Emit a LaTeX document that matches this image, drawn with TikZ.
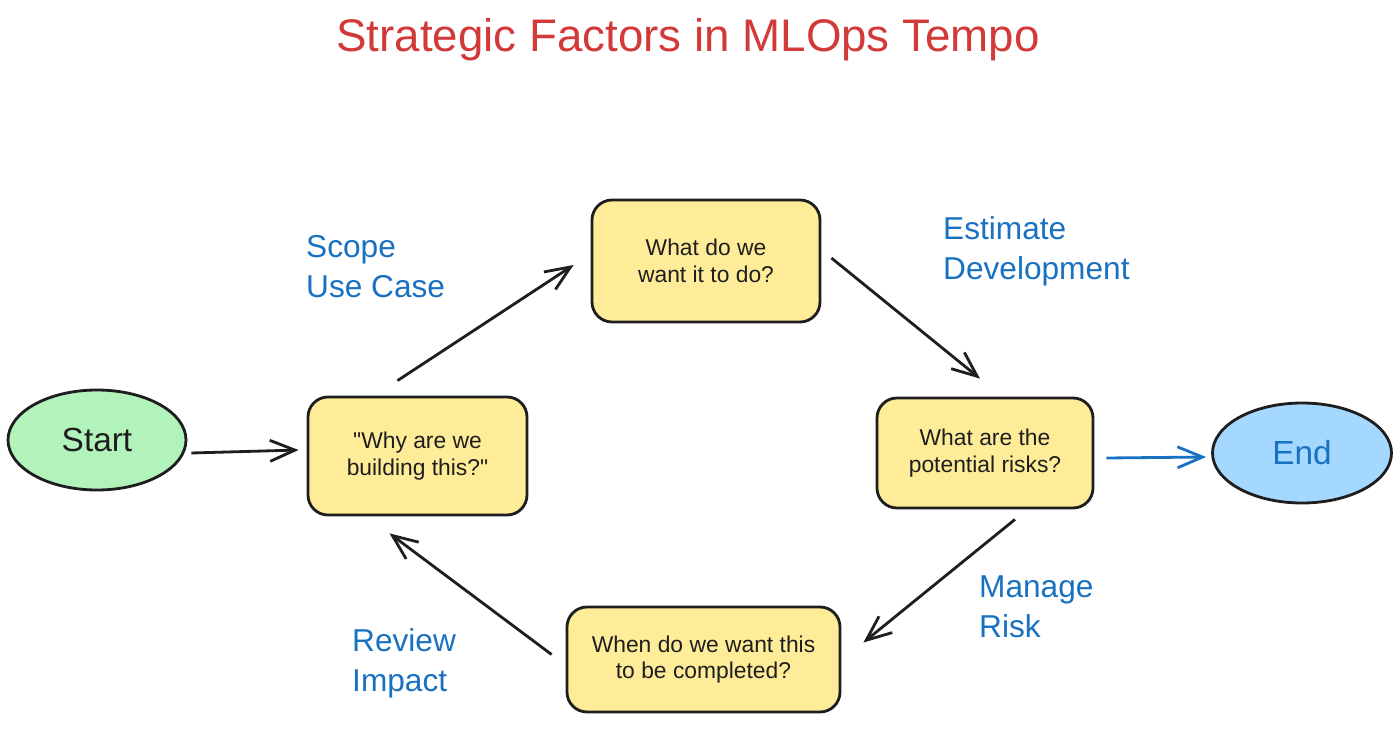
\documentclass[tikz,border=0pt]{standalone}
\usepackage{fontspec}
\setmainfont{Liberation Sans}
\usetikzlibrary{shapes.geometric,arrows.meta,positioning}
\definecolor{inkdark}{HTML}{1E1E1E}
\definecolor{startgreen}{HTML}{B2F2BB}
\definecolor{endblue}{HTML}{A5D8FF}
\definecolor{noteyellow}{HTML}{FFEC99}
\definecolor{labelblue}{HTML}{1971C2}
\definecolor{titlered}{HTML}{D23A3A}
\tikzset{
  >={Straight Barb[length=0.5cm,width=0.42cm]},
  terminal/.style={ellipse,draw=inkdark,line width=1.6pt,
                   minimum width=3.56cm,minimum height=2cm,
                   font=\fontsize{19}{22}\selectfont,text=inkdark},
  question/.style={rectangle,draw=inkdark,line width=1.6pt,
                   rounded corners=0.4cm,fill=noteyellow,align=center,
                   font=\fontsize{13}{15}\selectfont,text=inkdark},
  phase/.style={align=left,anchor=west,text=labelblue,
                font=\fontsize{18}{22.7}\selectfont},
  arr/.style={->,line width=1.6pt,draw=inkdark},
}
\begin{document}
\begin{tikzpicture}[
      every edge/.style={draw,arr}]
    \useasboundingbox (0,0) rectangle (28,-14.72);

    \node[font=\fontsize{26}{30}\selectfont,text=titlered] (TITLE) at (13.76,-0.80)
      {Strategic Factors in MLOps Tempo};

    \node[terminal,fill=startgreen] (START) at (1.94,-8.80) {Start};
    \node[terminal,fill=endblue,minimum width=3.58cm,text=labelblue] (END) at (26.04,-9.06) {End};

    \node[question,minimum width=4.38cm,minimum height=2.36cm] (WHY)  at (8.35,-9.12)
      {\textquotedbl Why are we\\building this?\textquotedbl};
    \node[question,minimum width=4.56cm,minimum height=2.44cm] (WHAT) at (14.12,-5.22)
      {What do we\\want it to do?};
    \node[question,minimum width=4.32cm,minimum height=2.2cm]  (RISK) at (19.70,-9.06)
      {What are the\\potential risks?};
    \node[question,minimum width=5.46cm,minimum height=2.1cm]  (WHEN) at (14.07,-13.19)
      {When do we want this\\to be completed?};

    \node[phase] (SCOPE)    at (6.00,-5.34)  {Scope\\Use Case};
    \node[phase] (ESTIMATE) at (18.74,-5.02) {Estimate\\Development};
    \node[phase] (MANAGE)   at (19.46,-12.14) {Manage\\Risk};
    \node[phase] (REVIEW)   at (6.92,-13.26) {Review\\Impact};

    \path ([xshift=0.08cm,yshift=-0.26cm]START.east) edge ([xshift=-0.16cm,yshift=0.12cm]WHY.west);
    \path ([xshift=-0.4cm,yshift=0.3cm]WHY.north)    edge ([xshift=-0.34cm,yshift=-0.08cm]WHAT.west);
    \path ([xshift=0.2cm,yshift=0.06cm]WHAT.east)    edge ([xshift=-0.1cm,yshift=0.36cm]RISK.north);
    \path ([xshift=0.24cm,yshift=-0.1cm]RISK.east)   edge[draw=labelblue] ([xshift=-0.1cm,yshift=-0.08cm]END.west);
    \path ([xshift=0.6cm,yshift=-0.2cm]RISK.south)   edge ([xshift=0.44cm,yshift=0.34cm]WHEN.east);
    \path ([xshift=-0.28cm,yshift=0.1cm]WHEN.west)   edge ([xshift=-0.56cm,yshift=-0.34cm]WHY.south);
  \end{tikzpicture}
\end{document}
